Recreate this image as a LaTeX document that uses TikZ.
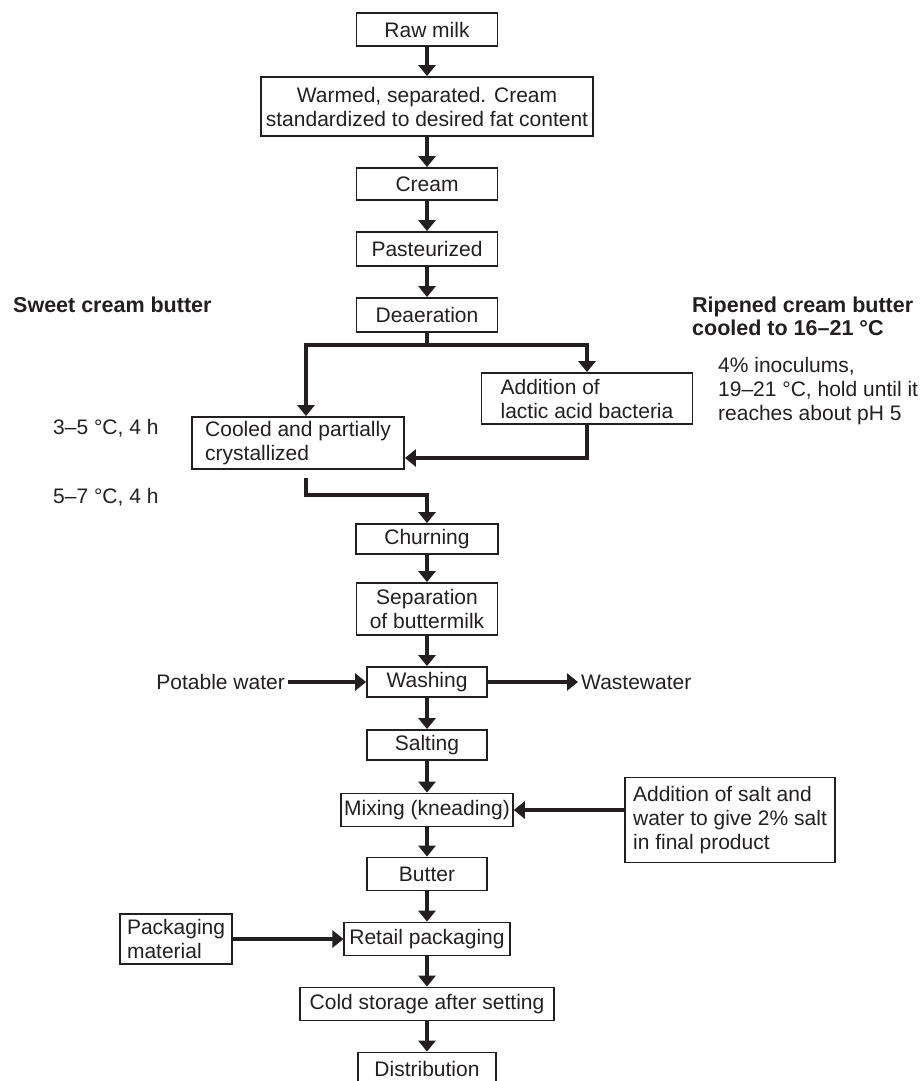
\documentclass[tikz,border=0pt]{standalone}
\usepackage{fontspec}
\setmainfont{Liberation Sans}
\usetikzlibrary{arrows.meta}
\definecolor{ink}{HTML}{231F20}
\tikzset{>={Triangle[width=17pt,length=11pt]}}
\tikzset{%
    stage/.style={draw=ink,line width=1.8pt,text=ink,minimum height=32pt,
        inner xsep=5pt,inner ysep=3pt},
    flow/.style={->,draw=ink,line width=4pt},
    note/.style={text=ink,inner sep=3pt,align=left},
    heading/.style={note,font=\fontsize{21.5}{23}\selectfont\bfseries}
}

\begin{document}
\begin{tikzpicture}[x=1pt,y=-1pt,font=\fontsize{21}{24}\selectfont]
    \useasboundingbox (0,0) rectangle (921,1081);

    \node[stage,minimum width=141pt,minimum height=33pt] (raw) at (427,29.5) {Raw milk};
    \node[stage,minimum width=326pt,minimum height=59pt,align=center] (warm) at (427,106.5)
        {Warmed, separated. Cream\\standardized to desired fat content};
    \node[stage,minimum width=141pt] (cream) at (427,184) {Cream};
    \node[stage,minimum width=141pt,minimum height=34pt] (past) at (427,249) {Pasteurized};
    \node[stage,minimum width=141pt,minimum height=34pt] (deaer) at (427,315) {Deaeration};
    \node[stage,minimum width=211pt,minimum height=51pt,align=left] (lactic) at (587,398.5)
        {Addition of\\lactic acid bacteria};
    \node[stage,minimum width=212pt,minimum height=52pt,align=left] (cooled) at (298,443)
        {Cooled and partially\\crystallized};
    \node[stage,minimum width=142pt,minimum height=30pt] (churn) at (427,539) {Churning};
    \node[stage,minimum width=141pt,minimum height=52pt,align=center] (sep) at (427,609)
        {Separation\\of buttermilk};
    \node[stage,minimum width=120pt,minimum height=30pt] (wash) at (427,682) {Washing};
    \node[stage,minimum width=120pt,minimum height=30pt] (salt) at (427,745) {Salting};
    \node[stage,minimum width=159pt,minimum height=33pt,inner xsep=3pt] (mix) at (427,810) {Mixing (kneading)};
    \node[stage,minimum width=120pt,minimum height=33pt] (butter) at (427,874) {Butter};
    \node[stage,minimum width=161pt,minimum height=33pt] (retail) at (427,939) {Retail packaging};
    \node[stage,minimum width=254pt,minimum height=33pt] (cold) at (427,1004) {Cold storage after setting};
    \node[stage,minimum width=138pt,minimum height=33pt] (dist) at (427,1069) {Distribution};
    \node[stage,minimum width=210pt,minimum height=85pt,align=left] (saltadd) at (730,820)
        {Addition of salt and\\water to give 2\% salt\\in final product};
    \node[stage,minimum height=50pt,inner xsep=7pt,align=left,anchor=east] (pack) at (233,939) {Packaging\\material};

    \node[heading,anchor=west] (sweet) at (10,305) {Sweet cream butter};
    \node[heading,anchor=west] (ripened) at (689,316.5) {Ripened cream butter\\cooled to 16–21 °C};
    \node[note,anchor=west] (inoc) at (715,391) {4\% inoculums,\\19–21 °C, hold until it\\reaches about pH 5};
    \node[note,anchor=west] (temp1) at (50,428) {3–5 °C, 4 h};
    \node[note,anchor=west] (temp2) at (50,497) {5–7 °C, 4 h};
    \node[note,anchor=east] (potable) at (288,682) {Potable water};
    \node[note,anchor=west] (waste) at (578,682) {Wastewater};

    \draw[flow] (raw) -- (warm);
    \draw[flow] (warm) -- (cream);
    \draw[flow] (cream) -- (past);
    \draw[flow] (past) -- (deaer);
    \draw[flow] (deaer.south) -- ++(0,12) coordinate (fork) -| ([xshift=8pt]cooled.north);
    \draw[flow] (fork) -| (lactic.north);
    \draw[flow] (lactic.south) |- ([yshift=-15pt]cooled.east);
    \draw[flow] ([xshift=8pt,yshift=-8pt]cooled.south) -- ++(0,17) -| (churn.north);
    \draw[flow] (churn) -- (sep);
    \draw[flow] (sep) -- (wash);
    \draw[flow] (potable) -- (wash);
    \draw[flow] (wash) -- (waste);
    \draw[flow] (wash) -- (salt);
    \draw[flow] (salt) -- (mix);
    \draw[flow] (saltadd.west |- mix) -- (mix);
    \draw[flow] (mix) -- (butter);
    \draw[flow] (butter) -- (retail);
    \draw[flow] (pack) -- (retail);
    \draw[flow] (retail) -- (cold);
    \draw[flow] (cold) -- (dist);
\end{tikzpicture}
\end{document}
